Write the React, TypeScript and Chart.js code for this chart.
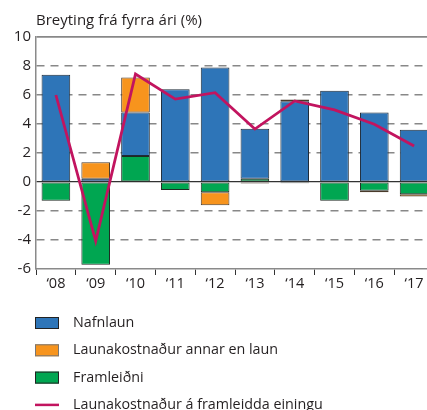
import React, { useEffect, useRef } from 'react';
import { Chart, registerables } from 'chart.js';

Chart.register(...registerables);

const categories = ['‘08', '‘09', '‘10', '‘11', '‘12', '‘13', '‘14', '‘15', '‘16', '‘17'];
const framleidni = [-1.3, -5.7, 1.8, -0.55, -0.7, 0.23, -0.08, -1.3, -0.6, -0.85];
const nafnlaun = [7.4, 0.22, 3.0, 6.4, 7.9, 3.45, 5.57, 6.3, 4.8, 3.6];
const annarKostnadur = [0, 1.15, 2.4, 0, -0.9, -0.1, 0.12, 0, -0.1, -0.15];
const eining = [6.0, -4.07, 7.45, 5.72, 6.16, 3.65, 5.59, 4.97, 3.98, 2.48];
const yMin = -6;
const yMax = 10;
const yStep = 2;

const titleText = 'Breyting frá fyrra ári (%)';
const legendOrder = [1, 2, 0, 3];

const FONT = "'Open Sans', sans-serif";
const TEXT = '#231f20';

const overlayPlugin = {
  id: 'overlay',
  afterDraw(chart: any) {
    const ctx = chart.ctx;
    const area = chart.chartArea;
    ctx.save();
    ctx.fillStyle = TEXT;
    ctx.font = `15px ${FONT}`;
    ctx.textAlign = 'left';
    ctx.textBaseline = 'middle';
    ctx.fillText(titleText, area.left, 20.5);

    ctx.font = `14.3px ${FONT}`;
    const x0 = 35;
    let y = area.bottom + 54;
    legendOrder.forEach((idx) => {
      const ds = chart.data.datasets[idx];
      if (ds.type === 'line') {
        ctx.strokeStyle = ds.borderColor;
        ctx.lineWidth = 2.5;
        ctx.beginPath();
        ctx.moveTo(x0, y);
        ctx.lineTo(x0 + 24, y);
        ctx.stroke();
      } else {
        ctx.fillStyle = ds.backgroundColor;
        ctx.fillRect(x0, y - 6, 24, 12);
        ctx.strokeStyle = ds.legendBorder || '#222';
        ctx.lineWidth = 1;
        ctx.strokeRect(x0 + 0.5, y - 5.5, 23, 11);
      }
      ctx.fillStyle = TEXT;
      ctx.fillText(ds.label, 73, y);
      y += 27.3;
    });
    ctx.restore();
  },
};

export default function App() {
  const ref = useRef<HTMLCanvasElement>(null);

  useEffect(() => {
    if (!ref.current) return;
    const chart = new Chart(ref.current, {
      type: 'bar',
      data: {
        labels: categories,
        datasets: [
          {
            label: 'Framleiðni',
            data: framleidni,
            backgroundColor: '#00a651',
            borderColor: '#1f2a22',
            borderWidth: 1,
            borderSkipped: false,
            order: 1,
            stack: 's',
          } as any,
          {
            label: 'Nafnlaun',
            data: nafnlaun,
            backgroundColor: '#2e75b8',
            borderColor: '#1e2a36',
            borderWidth: 1,
            borderSkipped: false,
            order: 1,
            stack: 's',
          },
          {
            label: 'Launakostnaður annar en laun',
            data: annarKostnadur,
            backgroundColor: '#f7941d',
            borderColor: '#4a3a2a',
            borderWidth: 1,
            borderSkipped: false,
            order: 1,
            stack: 's',
            legendBorder: '#777',
          },
          {
            type: 'line',
            label: 'Launakostnaður á framleidda einingu',
            data: eining,
            borderColor: '#c2145f',
            backgroundColor: '#c2145f',
            borderWidth: 2.8,
            pointRadius: 0,
            tension: 0,
            order: 0,
          },
        ],
      },
      options: {
        animation: false,
        responsive: false,
        layout: { padding: { top: 37, left: 0, right: 0, bottom: 0 } },
        datasets: {
          bar: { barPercentage: 0.72, categoryPercentage: 1 },
        },
        plugins: {
          legend: { display: false },
          title: { display: false },
          tooltip: { enabled: false },
        },
        scales: {
          x: {
            stacked: true,
            offset: true,
            afterFit: (s: any) => {
              s.height = 141;
            },
            grid: {
              offset: true,
              drawOnChartArea: false,
              drawTicks: true,
              tickLength: 6,
              tickColor: '#333',
              tickWidth: 1,
            },
            border: { display: true, color: '#8a8a8a', width: 1.5 },
            ticks: {
              color: TEXT,
              font: { family: FONT, size: 14.5 },
              padding: 0,
              maxRotation: 0,
            },
          },
          y: {
            stacked: true,
            min: yMin,
            max: yMax,
            afterFit: (s: any) => {
              s.width = 36;
            },
            ticks: {
              stepSize: yStep,
              color: TEXT,
              font: { family: FONT, size: 15 },
              padding: 5,
            },
            grid: {
              drawTicks: false,
              color: (c: any) => {
                const v = c.tick ? c.tick.value : null;
                if (v === 0) return '#333';
                if (v === yMin) return 'rgba(0,0,0,0)';
                return '#888';
              },
              lineWidth: (c: any) => {
                const v = c.tick ? c.tick.value : null;
                if (v === 0) return 1.2;
                if (v === yMax) return 1.8;
                return 1.6;
              },
            },
            border: {
              display: true,
              color: '#8a8a8a',
              width: 1.5,
              dash: (c: any) => {
                const v = c.tick ? c.tick.value : null;
                if (v === null || v === undefined || v === 0 || v === yMax) return [];
                return [8, 6];
              },
            } as any,
          },
        },
      },
      plugins: [overlayPlugin],
    } as any);
    return () => chart.destroy();
  }, []);

  return (
    <div style={{ position: 'absolute', left: 0, top: 0, width: 427, height: 410, overflow: 'hidden', background: '#fff' }}>
      <canvas ref={ref} width={434} height={410} style={{ display: 'block' }} />
    </div>
  );
}
